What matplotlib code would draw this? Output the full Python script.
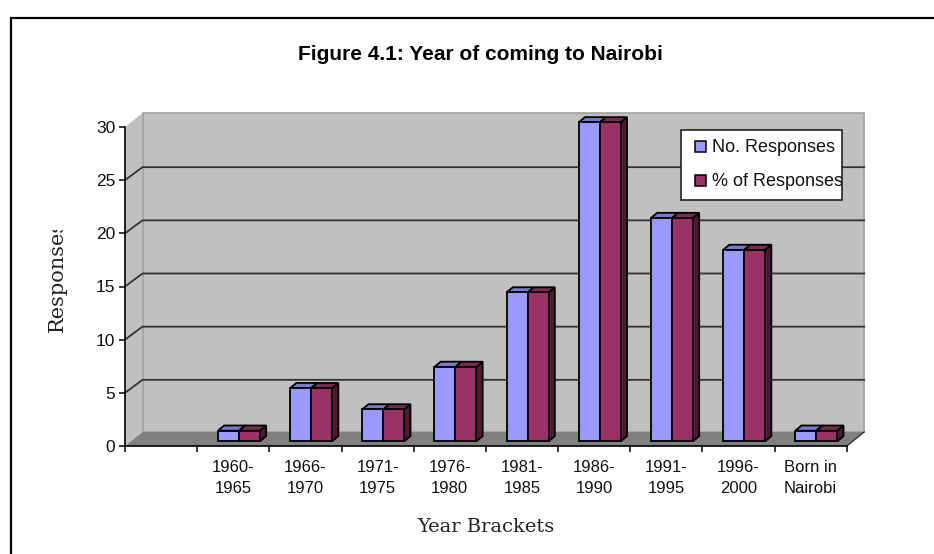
import matplotlib
matplotlib.use("Agg")
import matplotlib.pyplot as plt
from matplotlib.lines import Line2D
from matplotlib.patches import Rectangle
from matplotlib.transforms import Bbox

categories = ["", "1960-\n1965", "1966-\n1970", "1971-\n1975", "1976-\n1980", "1981-\n1985",
              "1986-\n1990", "1991-\n1995", "1996-\n2000", "Born in\nNairobi"]
no_responses = [0, 1, 5, 3, 7, 14, 30, 21, 18, 1]
pct_responses = [0, 1, 5, 3, 7, 14, 30, 21, 18, 1]
y_ticks = [0, 5, 10, 15, 20, 25, 30]

W, H = 934, 554
SANS = "Liberation Sans"
SERIF = "DejaVu Serif"

fig = plt.figure(figsize=(W / 100, H / 100), dpi=100)

# outer frame, only left and top are in the picture
fig.add_artist(Line2D([11 / W, 11 / W, 1], [0, 1 - 18.3 / H, 1 - 18.3 / H], transform=fig.transFigure,
                      color="black", lw=1.6, solid_joinstyle="miter"))

# axes = the front plane of the fake 3D box
ax = fig.add_axes([125 / W, 1 - 446 / H, 721.7 / W, 319 / H])
ax.set_xlim(0, 10)
ax.set_ylim(0, 30)
ax.patch.set_visible(False)

# depth of the box in data units
dx = 17.5 / 72.17
dy = 14 / 10.63
grid_dy = 13 / 10.63
ax.fill([0, dx, dx, 0], [0, dy, 30 + dy, 30], fc="#c0c0c0", ec="none", zorder=1, clip_on=False)
ax.fill([dx, 10 + dx, 10 + dx, dx], [dy, dy, 30 + dy, 30 + dy], fc="#c0c0c0", ec="#a0a0a0", lw=1.2,
        zorder=1, clip_on=False)
ax.fill([0, 10, 10 + dx, dx], [0, 0, dy, dy], fc="#808080", ec="none", zorder=2, clip_on=False)

for v in y_ticks[1:-1]:
    ax.plot([0, dx, 10 + dx], [v, v + grid_dy, v + grid_dy], color="#333333", lw=1.3, zorder=3, clip_on=False)
ax.plot([10, 10 + dx], [0, dy], color="#333333", lw=1, zorder=3, clip_on=False)


def draw_bar(left, value, front, side, top):
    w = 0.291
    d0, d1 = 0.32, 0.68
    x0 = left + d0 * dx
    y0 = d0 * 14.5 / 10.63
    ox = (d1 - d0) * dx
    oy = (d1 - d0) * 14.5 / 10.63
    kw = dict(ec="black", lw=1.3, zorder=4, clip_on=False, joinstyle="miter")
    ax.fill([x0 + w, x0 + w + ox, x0 + w + ox, x0 + w],
            [y0, y0 + oy, y0 + value + oy, y0 + value], fc=side, **kw)
    ax.fill([x0, x0 + ox, x0 + w + ox, x0 + w],
            [y0 + value, y0 + value + oy, y0 + value + oy, y0 + value], fc=top, **kw)
    ax.fill([x0, x0 + w, x0 + w, x0], [y0, y0, y0 + value, y0 + value], fc=front, **kw)


for i in range(len(categories)):
    if no_responses[i] == 0:
        continue
    draw_bar(i + 0.5 - 0.291, no_responses[i], "#9999ff", "#4d4d80", "#7a7acc")
    draw_bar(i + 0.5, pct_responses[i], "#993366", "#4d1a33", "#7a2952")

ax.spines["top"].set_visible(False)
ax.spines["right"].set_visible(False)
ax.spines["left"].set_linewidth(1.2)
ax.spines["bottom"].set_linewidth(1.2)
ax.spines["left"].set_zorder(5)
ax.spines["bottom"].set_zorder(5)

ax.set_yticks(y_ticks)
ax.set_xticks(range(len(categories) + 1))
ax.set_xticklabels([])
ax.set_xticks([i + 0.5 for i in range(len(categories))], categories, minor=True,
              fontfamily=SANS, fontsize=12, color="#111111", linespacing=1.5)
ax.tick_params(axis="x", which="major", length=4, width=1.1, direction="out")
ax.tick_params(axis="x", which="minor", length=0, pad=10)
ax.tick_params(axis="y", length=4, width=1.1, direction="out", pad=3, labelsize=12.5, labelcolor="#111111")
for t in ax.get_yticklabels():
    t.set_fontfamily(SANS)

fig.text(480 / W, 1 - 54.5 / H, "Figure 4.1: Year of coming to Nairobi", ha="center", va="center",
         fontfamily=SANS, fontweight="bold", fontsize=15, color="black")
fig.text(417 / W, 1 - 527 / H, "Year Brackets", ha="left", va="center",
         fontfamily=SERIF, fontsize=14, color="#222222")
ylab = fig.text(57 / W, 1 - 332 / H, "Responses", rotation=90, ha="center", va="bottom",
                fontfamily=SERIF, fontsize=15, color="#222222")
ylab.set_clip_box(Bbox([[0, H - 334], [W, H - 230]]))
ylab.set_clip_on(True)

# legend box, drawn by hand because the second label is cut off at the box edge
fig.add_artist(Rectangle((680.5 / W, 1 - 200 / H), 161.5 / W, 70.5 / H, transform=fig.transFigure,
                         fc="white", ec="#222222", lw=1.2, zorder=6))
legend_labels = ["No. Responses", "% of Responses"]
legend_colors = ["#9999ff", "#993366"]
for label, color, yc in zip(legend_labels, legend_colors, [146, 180]):
    fig.add_artist(Rectangle((694.5 / W, 1 - (yc + 5.5) / H), 11 / W, 11 / H, transform=fig.transFigure,
                             fc=color, ec="black", lw=1.1, zorder=7))
    t = fig.text(712 / W, 1 - (yc + 1.5) / H, label, ha="left", va="center", fontfamily=SANS, fontsize=13,
                 color="#111111", zorder=7)
    t.set_clip_box(Bbox([[680, 0], [842, H]]))
    t.set_clip_on(True)

fig.savefig("out.png", dpi=100)
